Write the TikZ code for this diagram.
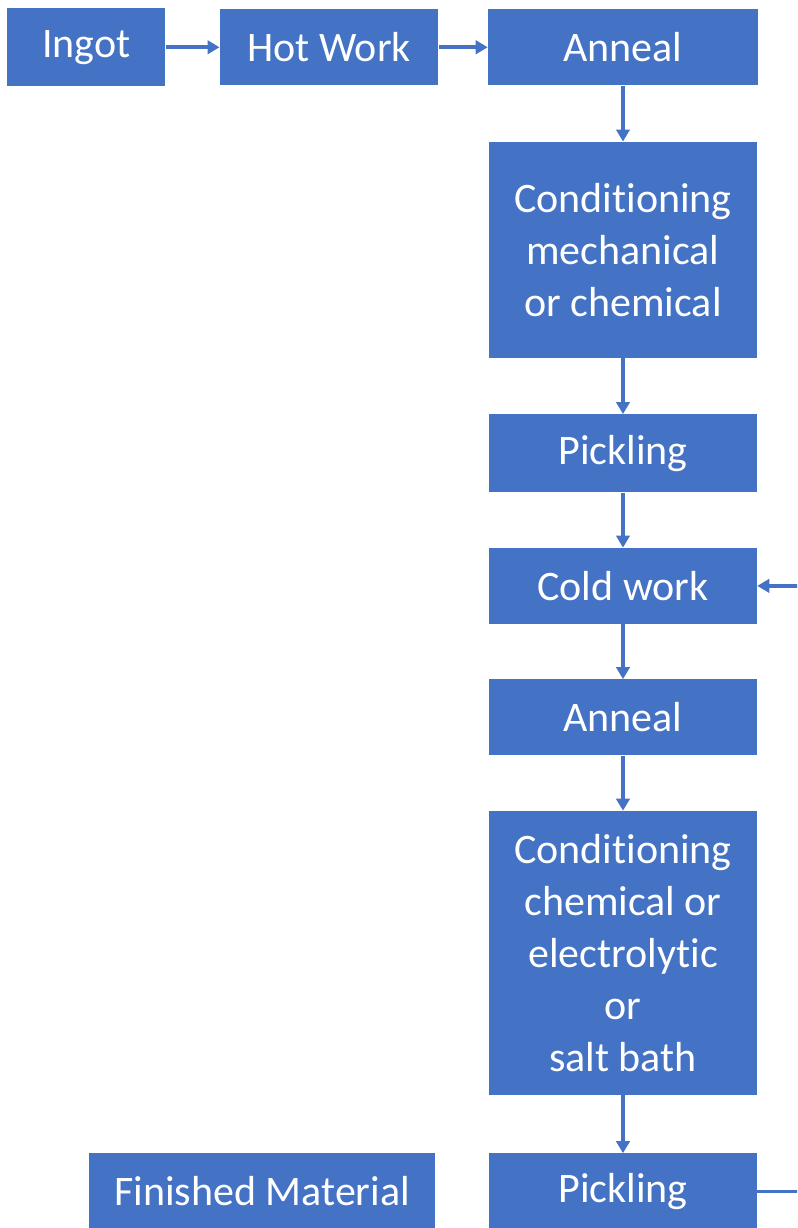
\documentclass[tikz,border=0pt]{standalone}
\usepackage{fontspec}
\setmainfont{Carlito}[Ligatures=NoCommon]
\usepackage{tikz}
\usepackage{xcolor}
\usetikzlibrary{arrows.meta,positioning}

\definecolor{officeblue}{HTML}{4472C4}

\begin{document}
\begin{tikzpicture}[
    font=\fontsize{31.5pt}{39pt}\selectfont,
    >={Triangle[length=9pt,width=10pt]},
    procbox/.style={
      fill=officeblue,
      text=white,
      align=center,
      inner sep=0pt,
      minimum height=57pt
    },
    colbox/.style={procbox, minimum width=201pt},
    flow/.style={->, line width=2.8pt, draw=officeblue}
  ]
    \path[use as bounding box, clip] (0,0) rectangle (597.75pt,-921pt);

    \node[procbox, minimum width=118.5pt, minimum height=58.5pt, anchor=north west] (ingot)
      at (5.25pt,-6pt) {Ingot};
    \node[procbox, minimum width=164pt, right=40.5pt of ingot] (hotwork) {Hot Work};
    \node[procbox, minimum width=202.5pt, right=36.75pt of hotwork] (anneal1) {Anneal};
    \node[colbox, minimum height=162pt, below=42pt of anneal1] (cond1)
      {Conditioning\\mechanical\\or chemical};
    \node[colbox, minimum height=58.5pt, below=42pt of cond1] (pickle1) {Pickling};
    \node[colbox, below=41.25pt of pickle1] (coldwork) {Cold work};
    \node[colbox, below=41.25pt of coldwork] (anneal2) {Anneal};
    \node[colbox, minimum height=213pt, below=41.25pt of anneal2] (cond2)
      {Conditioning\\chemical or\\electrolytic\\or\\salt bath};
    \node[colbox, below=43.5pt of cond2] (pickle2) {Pickling};
    \node[procbox, minimum width=260pt, left=39.75pt of pickle2] (finished) {Finished Material};

    \draw[flow] (ingot) -- (hotwork);
    \draw[flow] (hotwork) -- (anneal1);
    \draw[flow] (anneal1) -- (cond1);
    \draw[flow] (cond1) -- (pickle1);
    \draw[flow] (pickle1) -- (coldwork);
    \draw[flow] (coldwork) -- (anneal2);
    \draw[flow] (anneal2) -- (cond2);
    \draw[flow] (cond2) -- (pickle2);

    % repeat loop runs out past the right edge
    \coordinate (loopright) at ([xshift=40pt]pickle2.east);
    \draw[flow] (pickle2.east) -- (loopright) |- (coldwork.east);
  \end{tikzpicture}
\end{document}
